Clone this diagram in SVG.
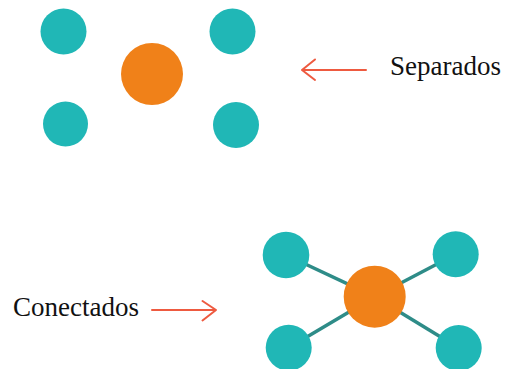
<svg xmlns="http://www.w3.org/2000/svg" width="511" height="369" viewBox="0 0 511 369">
<style>
.node{fill:#20b7b6}
.hub{fill:#f08119}
.link{stroke:#2e8c88;stroke-width:3.5;fill:none}
.arrow{stroke:#ee5a40;stroke-width:2;fill:none;stroke-linecap:round;stroke-linejoin:round}
.label{font-family:"Liberation Serif","Times New Roman",serif;font-size:27px;fill:#111}
</style>
<rect width="511" height="369" fill="#fff"/>
<g id="sep-tl"><circle class="node" cx="63.5" cy="31.5" r="23"/></g>
<g id="sep-tr"><circle class="node" cx="232.5" cy="31.5" r="23"/></g>
<g id="sep-hub"><circle class="hub" cx="152" cy="74" r="31"/></g>
<g id="sep-bl"><circle class="node" cx="65.5" cy="124" r="22.5"/></g>
<g id="sep-br"><circle class="node" cx="236" cy="125" r="23"/></g>
<g id="connectors">
<line class="link" x1="286" y1="255" x2="374.7" y2="296.7"/>
<line class="link" x1="455.7" y1="254.3" x2="374.7" y2="296.7"/>
<line class="link" x1="288.7" y1="347.7" x2="374.7" y2="296.7"/>
<line class="link" x1="458.7" y1="348" x2="374.7" y2="296.7"/>
<path class="arrow" d="M366 70H302M315 59.5L302 70L315 80"/>
<path class="arrow" d="M152 310H216M202.5 301L216 310L202.5 320.5"/>
</g>
<g id="con-tl"><circle class="node" cx="286" cy="255" r="23.3"/></g>
<g id="con-tr"><circle class="node" cx="455.7" cy="254.3" r="23"/></g>
<g id="con-bl"><circle class="node" cx="288.7" cy="347.7" r="23"/></g>
<g id="con-br"><circle class="node" cx="458.7" cy="348" r="23"/></g>
<g id="con-hub"><circle class="hub" cx="374.7" cy="296.7" r="31"/></g>
<g id="label-sep"><text class="label" x="390" y="75">Separados</text></g>
<g id="label-con"><text class="label" x="13" y="316">Conectados</text></g>
</svg>
